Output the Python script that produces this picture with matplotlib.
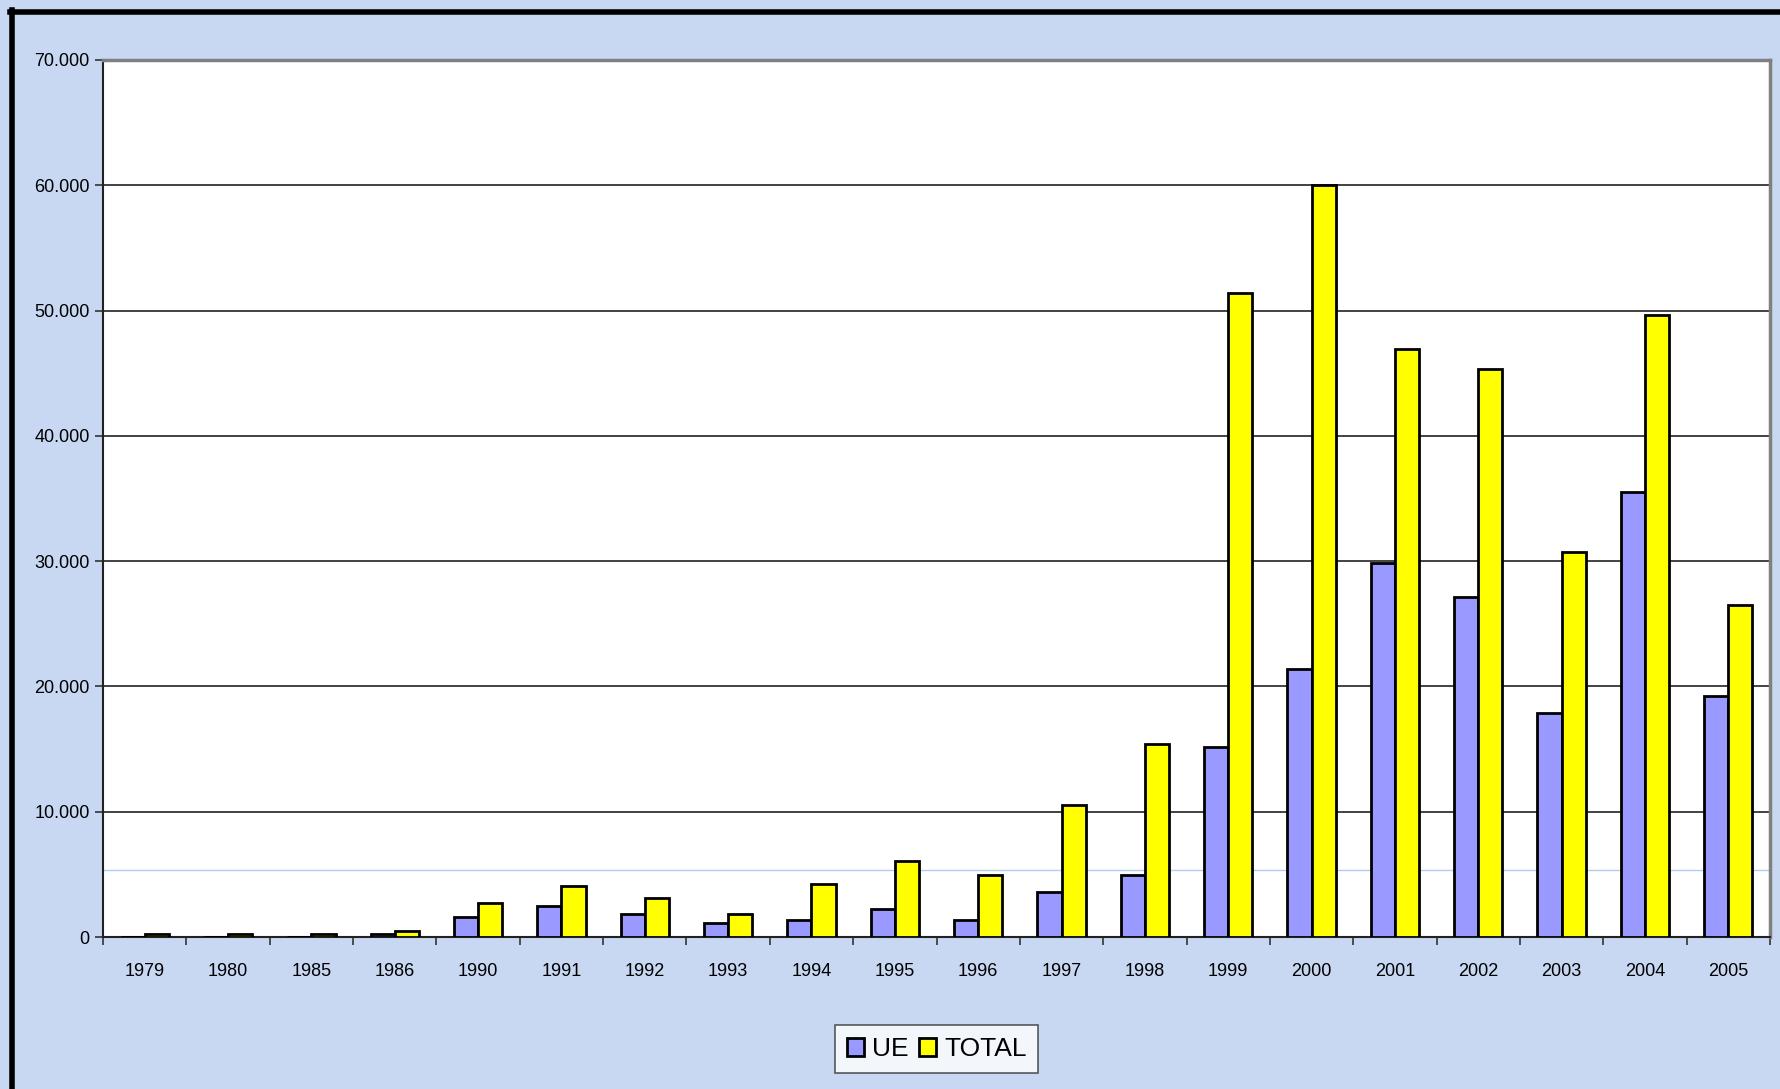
import matplotlib.pyplot as plt
import numpy as np
from matplotlib.ticker import FuncFormatter
from matplotlib.lines import Line2D

plt.rcParams['font.family'] = ['Liberation Sans', 'DejaVu Sans']

years = ['1979', '1980', '1985', '1986', '1990', '1991', '1992', '1993', '1994', '1995',
         '1996', '1997', '1998', '1999', '2000', '2001', '2002', '2003', '2004', '2005']
ue = [0, 0, 0, 200, 1600, 2500, 1800, 1150, 1350, 2250,
      1350, 3600, 4950, 15200, 21400, 29850, 27150, 17850, 35550, 19200]
total = [200, 200, 200, 500, 2700, 4050, 3150, 1800, 4250, 6050,
         4950, 10500, 15400, 51400, 60050, 46950, 45350, 30700, 49650, 26500]

fig = plt.figure(figsize=(17.8, 10.89), dpi=100)
fig.patch.set_facecolor('#c8d8f3')
ax = fig.add_axes([103 / 1780, 1 - 937 / 1089, (1770 - 103) / 1780, (937 - 60) / 1089])

x = np.arange(len(years))
w = 0.29
ax.bar(x - w / 2, ue, w, color='#9999ff', edgecolor='black', linewidth=2, label='UE', zorder=3)
ax.bar(x + w / 2, total, w, color='#ffff00', edgecolor='black', linewidth=2, label='TOTAL', zorder=3)

ax.set_xlim(-0.5, len(years) - 0.5)
ax.set_ylim(0, 70000)
ax.set_yticks(np.arange(0, 70001, 10000))
ax.yaxis.set_major_formatter(FuncFormatter(lambda v, p: f"{int(v):,}".replace(',', '.')))
ax.set_xticks(x)
ax.set_xticklabels(years)
ax.set_xticks(np.arange(-0.5, len(years), 1), minor=True)
ax.tick_params(axis='x', which='major', length=0, pad=19, labelsize=13)
ax.tick_params(axis='x', which='minor', length=6, width=1.2, color='#333333')
ax.tick_params(axis='y', length=6, width=1.2, labelsize=13, color='#333333')

ax.grid(axis='y', color='#222222', linewidth=1.2, zorder=0)
ax.axhline(5350, color='#b0cdf0', linewidth=1, zorder=1)
ax.set_facecolor('white')
for s in ['top', 'right']:
    ax.spines[s].set_color('#808080')
    ax.spines[s].set_linewidth(2.5)
for s in ['left', 'bottom']:
    ax.spines[s].set_color('#222222')
    ax.spines[s].set_linewidth(1.5)

leg = ax.legend(loc='center', bbox_to_anchor=(0.5, -0.128), ncol=2, fontsize=19,
                frameon=True, fancybox=False, edgecolor='#333333', handlelength=0.65,
                handleheight=0.65, handletextpad=0.3, columnspacing=0.4, borderpad=0.45,
                borderaxespad=0)
leg.get_frame().set_linewidth(1.2)

# black frame lines at top and left
fig.add_artist(Line2D([11.5 / 1780, 11.5 / 1780], [0, 1 - 10 / 1089], color='black', linewidth=4))
fig.add_artist(Line2D([10 / 1780, 1], [1 - 11.5 / 1089, 1 - 11.5 / 1089], color='black', linewidth=4))

fig.savefig('out.png', dpi=100, facecolor=fig.get_facecolor())
